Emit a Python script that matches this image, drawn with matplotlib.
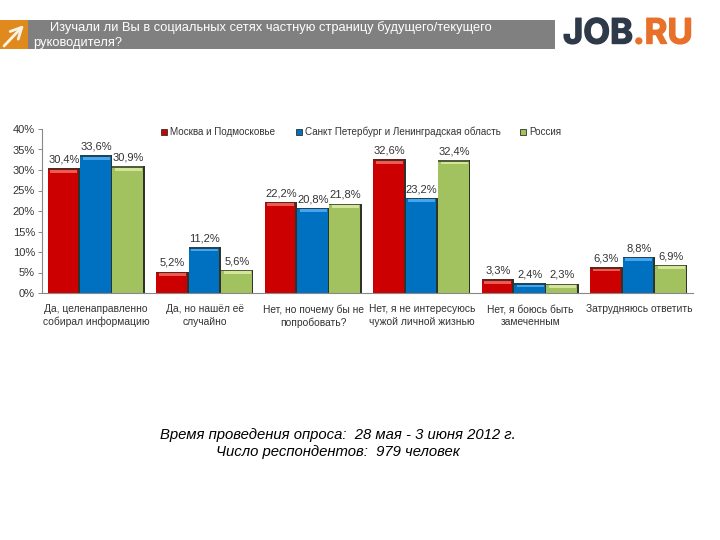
#!/usr/bin/env python3
"""Survey bar chart with header strip and logo, saved to out.png."""

import matplotlib

matplotlib.use("Agg")
import matplotlib.patches as mpatches
import matplotlib.patheffects as pe
import matplotlib.pyplot as plt
import numpy as np

plt.rcParams["font.family"] = ["Liberation Sans", "DejaVu Sans"]

_RED = "#CC0000"
_BLUE = "#0070C0"
_GREEN = "#A2C15F"
_RED_TOP = "#EE5A50"
_BLUE_TOP = "#45A5EE"
_GREEN_TOP = "#D2E59A"
_SHADOW = "#2F3329"
_GRAY = "#808080"
_ORANGE = "#E08A1E"
_TEXT = "#333333"

W, H = 720, 540

categories = [
    "Да, целенаправленно\nсобирал информацию",
    "Да, но нашёл её\nслучайно",
    "Нет, но почему бы не\nпопробовать?",
    "Нет, я не интересуюсь\nчужой личной жизнью",
    "Нет, я боюсь быть\nзамеченным",
    "Затрудняюсь ответить",
]
series_names = ["Москва и Подмосковье", "Санкт Петербург и Ленинградская область", "Россия"]
moscow = [30.4, 5.2, 22.2, 32.6, 3.3, 6.3]
spb = [33.6, 11.2, 20.8, 23.2, 2.4, 8.8]
russia = [30.9, 5.6, 21.8, 32.4, 2.3, 6.9]
y_ticks = [0, 5, 10, 15, 20, 25, 30, 35, 40]

title_lines = [
    "Изучали ли Вы в социальных сетях частную страницу будущего/текущего",
    "руководителя?",
]
footer_lines = [
    "Время проведения опроса:  28 мая - 3 июня 2012 г.",
    "Число респондентов:  979 человек",
]

fig = plt.figure(figsize=(W / 100, H / 100), dpi=100, facecolor="white")

# full-figure overlay in pixel coords, y pointing down
bg = fig.add_axes([0, 0, 1, 1])
bg.set_xlim(0, W)
bg.set_ylim(H, 0)
bg.axis("off")

bg.add_patch(mpatches.Rectangle((0, 20), 555, 29, facecolor=_GRAY, edgecolor="none"))
bg.add_patch(mpatches.Rectangle((0, 20), 28, 29, facecolor=_ORANGE, edgecolor="none"))
bg.annotate(
    "",
    xy=(24, 25),
    xytext=(4, 46),
    arrowprops=dict(
        arrowstyle="->,head_width=0.4,head_length=0.8",
        color="#FBF3E4",
        lw=2,
        shrinkA=0,
        shrinkB=0,
    ),
)

bg.text(50, 28, title_lines[0], color="white", fontsize=9.3, va="center", ha="left")
bg.text(33, 43, title_lines[1], color="white", fontsize=9.3, va="center", ha="left")

bg.text(563, 34.5, "JOB", color="#2E3A4A", fontsize=25, fontweight="bold", family="Inter",
        va="center", ha="left", path_effects=[pe.withStroke(linewidth=1.0, foreground="#2E3A4A")])
bg.text(633, 34.5, ".RU", color="#E8702A", fontsize=25, fontweight="bold", family="Inter",
        va="center", ha="left", path_effects=[pe.withStroke(linewidth=1.0, foreground="#E8702A")])

bg.text(338, 435, footer_lines[0], fontsize=10.7, fontstyle="italic", color="black",
        ha="center", va="center")
bg.text(338, 452, footer_lines[1], fontsize=10.7, fontstyle="italic", color="black",
        ha="center", va="center")

# chart axes: x 42..693 px, 0% at 293 px, 40% at 129 px
ax = fig.add_axes([42 / W, 1 - 293 / H, (693 - 42) / W, (293 - 129) / H])
ax.patch.set_alpha(0)

x = np.arange(len(categories))
bar_w = 0.298
shade_w = 0.016
strip = 0.7
for off, vals, col, top in [
    (-bar_w, moscow, _RED, _RED_TOP),
    (0, spb, _BLUE, _BLUE_TOP),
    (bar_w, russia, _GREEN, _GREEN_TOP),
]:
    vals = np.array(vals)
    ax.bar(x + off, vals, bar_w, color=col, edgecolor="none")
    # bevel: dark right side, dark top line, light strip under it
    ax.bar(x + off + bar_w / 2 - shade_w / 2, vals, shade_w, color=_SHADOW, edgecolor="none")
    ax.bar(x + off, 0.35, bar_w, bottom=vals - 0.35, color=_SHADOW, edgecolor="none", alpha=0.7)
    ax.bar(x + off, strip, bar_w * 0.84, bottom=vals - 0.35 - strip, color=top, edgecolor="none")
    for xi, v in zip(x + off, vals):
        ax.text(xi, v + 0.9, f"{v:.1f}%".replace(".", ","), ha="center", va="bottom",
                fontsize=8, color=_TEXT)

ax.set_xlim(-0.5, 5.5)
ax.set_ylim(0, 40)
ax.set_yticks(y_ticks)
ax.set_yticklabels([f"{t}%" for t in y_ticks], fontsize=8, color=_TEXT)
ax.set_xticks(x)
ax.set_xticklabels(categories, fontsize=7.4, color=_TEXT, linespacing=1.3)
ax.tick_params(axis="x", length=0, pad=8)
ax.tick_params(axis="y", length=3, width=0.7, color="#888888", pad=2)
for side in ("top", "right"):
    ax.spines[side].set_visible(False)
for side in ("left", "bottom"):
    ax.spines[side].set_color("#888888")
    ax.spines[side].set_linewidth(0.8)

# legend drawn by hand to keep the wide spacing of the original
for px, col, name in [(161, _RED, series_names[0]), (296, _BLUE, series_names[1]), (520, _GREEN, series_names[2])]:
    bg.add_patch(mpatches.Rectangle((px, 129), 6, 6, facecolor=col, edgecolor=_SHADOW, linewidth=0.6))
    bg.text(px + 9, 132, name, fontsize=7.1, color=_TEXT, va="center", ha="left")

fig.savefig("out.png", dpi=100, facecolor="white")
